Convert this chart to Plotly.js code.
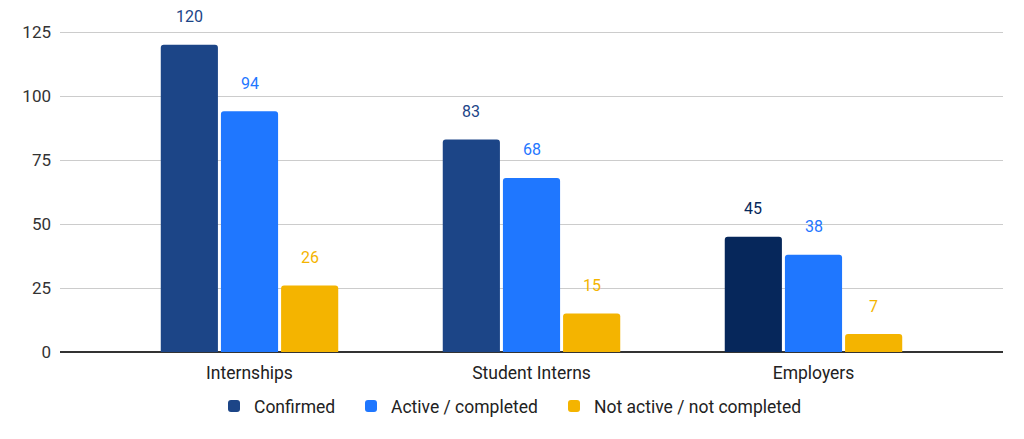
<!DOCTYPE html>
<html>
<head>
<meta charset="utf-8">
<script src="https://cdn.plot.ly/plotly-3.0.1.min.js"></script>
<style>html,body{margin:0;padding:0;background:#fff;}#chart{width:1024px;height:439px;}</style>
</head>
<body>
<div id="chart"></div>
<script>
const categories = ["Internships", "Student Interns", "Employers"];
const seriesNames = ["Confirmed", "Active / completed", "Not active / not completed"];
const confirmed = [120, 83, 45];
const active = [94, 68, 38];
const notActive = [26, 15, 7];
const yTicks = [0, 25, 50, 75, 100, 125];

const confirmedColors = ["#1c4587", "#1c4587", "#06275b"];
const activeColor = "#1f77ff";
const notActiveColor = "#f4b400";

const xIdx = categories.map((c, i) => i);
const legendIds = ["legend", "legend2", "legend3"];
function mk(k, y, color) {
  return {type: "bar", name: seriesNames[k], legend: legendIds[k], x: xIdx, y: y, hoverinfo: "none",
    marker: {color: color, cornerradius: 3}};
}
const traces = [
  mk(0, confirmed, confirmedColors),
  mk(1, active, activeColor),
  mk(2, notActive, notActiveColor)
];

const slot = 0.2134;
const annotations = [];
const series = [confirmed, active, notActive];
const labelColors = [confirmedColors, [activeColor, activeColor, activeColor], [notActiveColor, notActiveColor, notActiveColor]];
series.forEach((vals, j) => {
  vals.forEach((v, i) => {
    annotations.push({
      x: i + (j - 1) * slot, y: v, xref: "x", yref: "y",
      text: String(v), showarrow: false, yshift: 28, yanchor: "middle",
      font: {family: "Roboto, sans-serif", size: 16, color: labelColors[j][i]}
    });
  });
});

// legend box left edges in px, converted to paper coords
const legendPx = [228, 365, 568];
function legendCfg(px) {
  return {
    orientation: "h", x: (px - 14 - 60) / 943, xanchor: "left", y: -0.158, yanchor: "middle",
    font: {size: 17.5, color: "#222"}, itemwidth: 30, bgcolor: "rgba(0,0,0,0)", borderwidth: 0
  };
}

const layout = {
  width: 1024, height: 439,
  margin: {l: 60, r: 21, t: 10, b: 87},
  paper_bgcolor: "#fff", plot_bgcolor: "#fff",
  barmode: "group", bargap: 0.36, bargroupgap: 0.05,
  font: {family: "Roboto, sans-serif", size: 16, color: "#222"},
  xaxis: {
    range: [-0.672, 2.672], tickmode: "array", tickvals: xIdx, ticktext: categories,
    showgrid: false, zeroline: false, showline: false, ticks: "",
    ticklabelstandoff: 8,
    tickfont: {size: 17.5, color: "#222"}
  },
  yaxis: {
    range: [0, 133.6], tickmode: "array", tickvals: yTicks, ticktext: yTicks.map(String),
    showgrid: true, gridcolor: "#cccccc", gridwidth: 1,
    zeroline: true, zerolinecolor: "#333", zerolinewidth: 1.5,
    ticks: "", ticklabelstandoff: 8,
    tickfont: {size: 17, color: "#333"}
  },
  legend: legendCfg(legendPx[0]),
  legend2: legendCfg(legendPx[1]),
  legend3: legendCfg(legendPx[2]),
  showlegend: true,
  annotations: annotations
};

Plotly.newPlot("chart", traces, layout, {displayModeBar: false, staticPlot: true});
</script>
</body>
</html>
